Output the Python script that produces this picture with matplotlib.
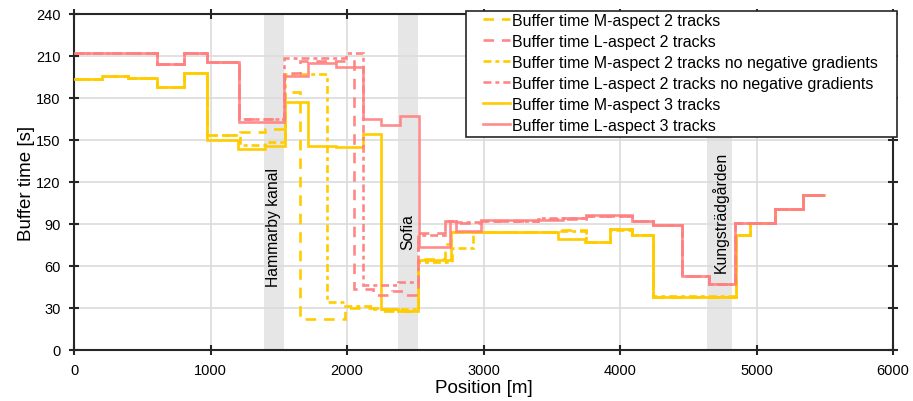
import matplotlib.pyplot as plt
from matplotlib.patches import Rectangle

plt.rcParams['font.family'] = ['Liberation Sans', 'DejaVu Sans']

# station zones along the line (start, end) in m
zones = [(1391, 1537), (2372, 2518), (4641, 4824)]
zone_names = ['Hammarby kanal', 'Sofia', 'Kungsträdgården']
zone_label_y = [88, 85, 99]

# step series: edges [m] and buffer times [s]
m2_edges = [0, 203, 398, 605, 805, 971, 1215, 1398, 1545, 1654, 1984, 2245, 2520, 2716, 2765,
            3546, 3750, 3924, 4085, 4240, 4851, 4949, 5139, 5344, 5505]
m2_vals = [193.5, 195.5, 194, 188, 198, 153.5, 155.5, 158, 184, 22.5, 30, 28, 65, 76, 84.5,
           86, 77.5, 86.5, 82, 38, 82, 91, 101, 111]

l2_edges = [0, 605, 805, 971, 1208, 1540, 1654, 2050, 2191, 2330, 2420, 2520, 2716, 2800, 2985,
            3400, 3750, 4085, 4240, 4456, 4650, 4840, 5139, 5344, 5505]
l2_vals = [212, 204, 212, 206, 165, 198, 206.5, 43.5, 39, 42.5, 39, 83.5, 92, 91, 92,
           93.5, 96, 92, 89, 53, 47, 91, 101, 111]

m2nn_edges = [0, 203, 398, 605, 805, 971, 1215, 1398, 1545, 1850, 1984, 2200, 2520, 2770, 2925,
              3546, 3750, 3924, 4085, 4240, 4851, 4949, 5139, 5344, 5505]
m2nn_vals = [193.5, 195.5, 194, 188, 198, 153.5, 146.5, 148.5, 197, 34.5, 31.5, 29, 63, 73, 84,
             85, 77, 86, 82, 38.5, 82, 91, 101, 111]

l2nn_edges = [0, 605, 805, 971, 1208, 1540, 1996, 2118, 2375, 2520, 2716, 2800, 2985, 3400,
              3750, 4085, 4240, 4456, 4650, 4840, 5139, 5344, 5505]
l2nn_vals = [212, 204, 212, 206, 165, 208.5, 212.5, 46.5, 48.5, 82, 92.5, 91.5, 92.5, 94,
             96, 92, 89, 53, 47, 91, 101, 111]

m3_edges = [0, 203, 398, 605, 805, 971, 1203, 1398, 1545, 1715, 1923, 2118, 2247, 2375, 2520,
            2765, 3546, 3740, 3924, 4085, 4240, 4851, 4949, 5139, 5344, 5505]
m3_vals = [193.5, 195.5, 194, 188, 198, 150, 143.5, 146, 177, 146, 145, 154, 29, 28, 64,
           84, 79, 77, 86.5, 82, 38, 82, 91, 101, 111]

l3_edges = [0, 605, 805, 971, 1208, 1540, 1715, 1923, 2118, 2250, 2385, 2525, 2752, 2800, 2985,
            3580, 3750, 4085, 4240, 4456, 4650, 4840, 5139, 5344, 5505]
l3_vals = [212, 204, 212, 206, 163, 196, 205, 202, 165, 161, 167, 73.5, 92, 85, 93,
           94.5, 96.5, 92.5, 89.5, 53, 47, 91, 101, 111]

yellow = '#FFCC00'
pink = '#FF8080'
dashed = (0, (4, 3))
dashdot = (0, (3, 1.5, 1.5, 1.5))

fig = plt.figure(figsize=(9.13, 4.02), dpi=100)
ax = fig.add_axes([74 / 913, 1 - 351 / 402, (893 - 74) / 913, (351 - 15) / 402])

for (x0, x1), name, ly in zip(zones, zone_names, zone_label_y):
    ax.axvspan(x0, x1, color='#E6E6E6', lw=0, zorder=0)
    ax.text((x0 + x1) / 2, ly, name, rotation=90, ha='center', va='center',
            fontsize=11.3, zorder=1)

lw = 1.9
ax.stairs(m2_vals, m2_edges, baseline=None, color=yellow, lw=lw, ls=dashed,
          label='Buffer time M-aspect 2 tracks', zorder=3)
ax.stairs(l2_vals, l2_edges, baseline=None, color=pink, lw=lw, ls=dashed,
          label='Buffer time L-aspect 2 tracks', zorder=4, alpha=0.95)
ax.stairs(m2nn_vals, m2nn_edges, baseline=None, color=yellow, lw=lw, ls=dashdot,
          label='Buffer time M-aspect 2 tracks no negative gradients', zorder=3)
ax.stairs(l2nn_vals, l2nn_edges, baseline=None, color=pink, lw=lw, ls=dashdot,
          label='Buffer time L-aspect 2 tracks no negative gradients', zorder=4, alpha=0.95)
ax.stairs(m3_vals, m3_edges, baseline=None, color=yellow, lw=lw,
          label='Buffer time M-aspect 3 tracks', zorder=3)
ax.stairs(l3_vals, l3_edges, baseline=None, color=pink, lw=lw,
          label='Buffer time L-aspect 3 tracks', zorder=4, alpha=0.9)

ax.set_xlim(0, 6000)
ax.set_ylim(0, 240)
ax.set_xticks(range(0, 6001, 1000))
ax.set_yticks(range(0, 241, 30))
ax.grid(True, color='#DCDCDC', lw=1.2, zorder=0.5)
ax.set_axisbelow(True)
for s in ax.spines.values():
    s.set_linewidth(1.5)
    s.set_color('#262626')
ax.tick_params(direction='inout', length=7, width=1.5, top=True, right=True,
               labelsize=10.5, pad=6, color='#262626')
ax.set_xlabel('Position [m]', fontsize=13.5, labelpad=1)
ax.set_ylabel('Buffer time [s]', fontsize=13.5, labelpad=1)

# legend box drawn by hand (wider side margins than matplotlib's frame)
ax.add_patch(Rectangle((466 / 913, 1 - 138 / 402), (897 - 466) / 913, 126 / 402,
                       transform=fig.transFigure, fc='white', ec='#262626', lw=1.2,
                       zorder=4.5, clip_on=False))
ax.legend(loc='upper right', bbox_to_anchor=(878 / 913, 1 - 14 / 402),
          bbox_transform=fig.transFigure, fontsize=11.5, frameon=False,
          handlelength=1.65, handletextpad=0.15, labelspacing=0.37,
          borderpad=0, borderaxespad=0)

fig.savefig('out.png', dpi=100)
